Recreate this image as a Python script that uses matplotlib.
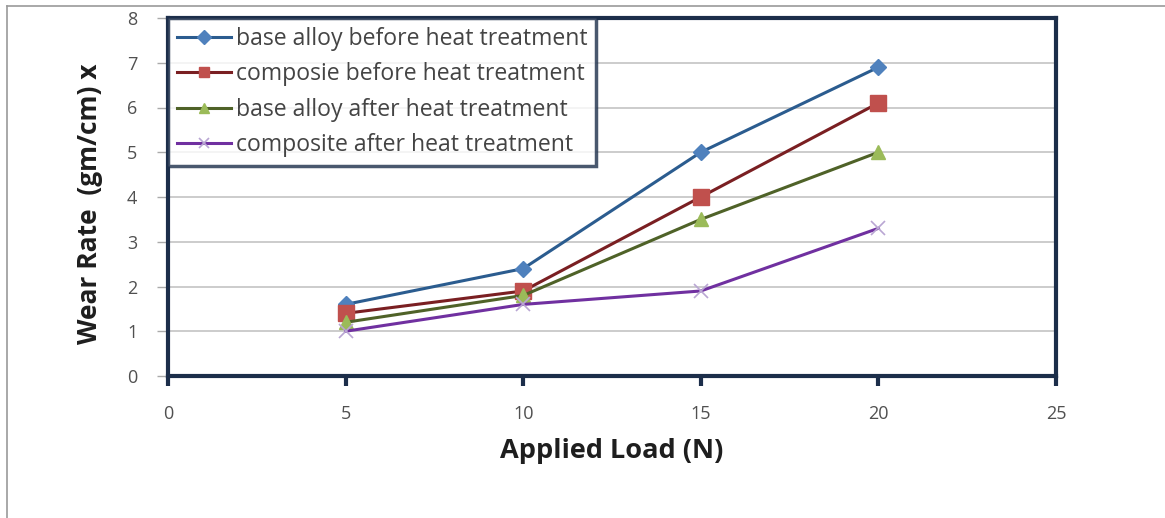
import matplotlib
matplotlib.use("Agg")
import matplotlib.pyplot as plt
from matplotlib.lines import Line2D

# data
load = [5, 10, 15, 20]
base_before = [1.6, 2.4, 5.0, 6.9]
comp_before = [1.4, 1.9, 4.0, 6.1]
base_after = [1.2, 1.8, 3.5, 5.0]
comp_after = [1.0, 1.6, 1.9, 3.3]

labels = ["base alloy before heat treatment",
          "composie before heat treatment",
          "base alloy after heat treatment",
          "composite after heat treatment"]

plt.rcParams['font.family'] = ['Open Sans', 'DejaVu Sans']

fig = plt.figure(figsize=(11.65, 5.18), dpi=100)
ax = fig.add_axes([168 / 1165, 1 - 376 / 518, 888 / 1165, 358 / 518])

ax.plot(load, base_before, color='#2b5c8f', lw=2.2, marker='D', ms=8,
        mfc='#4f81bd', mec='#4f81bd', label=labels[0])
ax.plot(load, comp_before, color='#7a1f22', lw=2.2, marker='s', ms=11,
        mfc='#c0504d', mec='#c0504d', label=labels[1])
ax.plot(load, base_after, color='#4f6228', lw=2.2, marker='^', ms=10,
        mfc='#9bbb59', mec='#9bbb59', label=labels[2])
ax.plot(load, comp_after, color='#7030a0', lw=2.2, marker='x', ms=10,
        mew=1.2, mec='#b9a6d3', label=labels[3])

ax.set_xlim(0, 25)
ax.set_ylim(0, 8)
ax.set_xticks(range(0, 26, 5))
ax.set_yticks(range(0, 9))
ax.grid(axis='y', color='#c8c8c8', lw=1.3)
ax.set_axisbelow(True)

for s in ax.spines.values():
    s.set_color('#1c2e4a')
    s.set_linewidth(3)

ax.tick_params(axis='x', colors='#1c2e4a', length=7, width=3, labelsize=13,
               labelcolor='#505050', pad=14)
ax.tick_params(axis='y', colors='#aaaaaa', length=8, width=1, labelsize=13,
               labelcolor='#505050', pad=14)

ax.set_xlabel("Applied Load (N)", fontsize=19.5, fontweight='bold', color='#1e1e1e',
              labelpad=11)
ax.set_ylabel("Wear Rate  (gm/cm) x", fontsize=19, fontweight='bold', color='#1e1e1e',
              labelpad=17)
ax.yaxis.label.set_y(0.48)

leg = ax.legend(loc='upper left', bbox_to_anchor=(0.0, 1.0), fontsize=16.6,
                frameon=True, fancybox=False, borderaxespad=0.0,
                handlelength=2.35, handletextpad=0.2, labelspacing=0.5,
                borderpad=0.38, labelcolor='#444444')
leg.get_frame().set_edgecolor('#1c2e4a')
leg.get_frame().set_linewidth(2.5)
for h in leg.legend_handles:
    h.set_markersize(7)

# outer frame lines of the original picture
fig.add_artist(Line2D([7 / 1165, 1.0], [1 - 6 / 518, 1 - 6 / 518],
                      color='#9a9a9a', lw=1.2))
fig.add_artist(Line2D([7 / 1165, 7 / 1165], [0.0, 1 - 6 / 518],
                      color='#9a9a9a', lw=1.2))

fig.savefig("out.png", dpi=100)
